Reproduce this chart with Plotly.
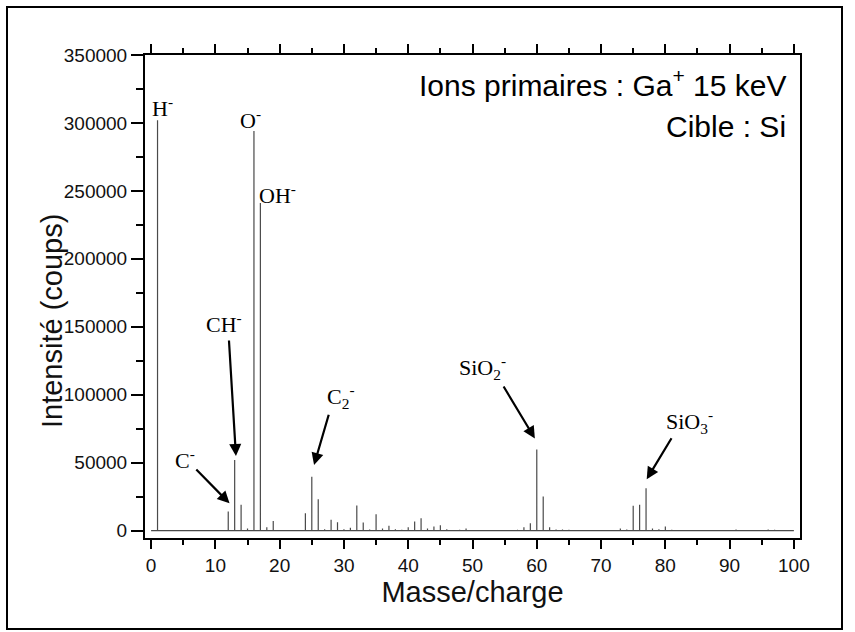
import plotly.graph_objects as go

# ---- data ----
masses = [1, 12, 13, 14, 15, 16, 17, 18, 19, 24, 25, 26, 27, 28, 29, 30, 31, 32, 33, 34,
          35, 36, 37, 38, 39, 40, 41, 42, 43, 44, 45, 46, 48, 49, 57, 58, 59, 60, 61, 62,
          63, 64, 65, 73, 74, 75, 76, 77, 78, 79, 80, 81, 91, 96, 97]
intensities = [302000, 14000, 52000, 19000, 1500, 294000, 241000, 2500, 7100, 12700, 39500,
               23000, 1000, 7900, 6100, 1000, 2000, 18400, 6000, 800, 12000, 1500, 3500, 1000,
               500, 2500, 6600, 9100, 1500, 3000, 3900, 1000, 500, 1500, 500, 2500, 5400,
               59600, 25000, 2500, 800, 800, 500, 1500, 800, 18200, 18900, 31100, 1500, 1000,
               3000, 500, 800, 800, 600]
x_start, x_end = 0, 100

# peak labels: (text, x, y)
label_text = ["H<sup>-</sup>", "O<sup>-</sup>", "OH<sup>-</sup>", "CH<sup>-</sup>", "C<sup>-</sup>",
              "C<sub>2</sub><sup>-</sup>", "SiO<sub>2</sub><sup>-</sup>", "SiO<sub>3</sub><sup>-</sup>"]
label_x = [1.8, 15.5, 19.6, 11.4, 5.3, 29.6, 51.6, 83.8]
label_y = [312000, 303000, 248000, 153000, 52600, 98600, 120300, 80600]

# arrows: tail (ax, ay) -> head (hx, hy)
arrow_tail_x = [12.1, 6.8, 27.7, 54.7, 81.1]
arrow_tail_y = [141000, 46000, 86300, 107100, 69000]
arrow_head_x = [13.2, 12.2, 25.35, 59.7, 77.1]
arrow_head_y = [54800, 20000, 48200, 67800, 37700]

x_ticks = list(range(0, 101, 10))

# ---- build stick spectrum path ----
xs, ys = [x_start], [0]
for m, v in sorted(zip(masses, intensities)):
    xs += [m, m, m]
    ys += [0, v, 0]
xs.append(x_end)
ys.append(0)

fig = go.Figure()
fig.add_trace(go.Scatter(x=xs, y=ys, mode="lines",
                         line=dict(color="#4a4a4a", width=1.2),
                         hoverinfo="skip", showlegend=False))

serif = "Liberation Serif, Times New Roman, serif"
sans = "Liberation Sans, Arial, sans-serif"

annotations = []
for t, x, y in zip(label_text, label_x, label_y):
    annotations.append(dict(x=x, y=y, xref="x", yref="y", text=t, showarrow=False,
                            font=dict(family=serif, size=22, color="black"),
                            xanchor="center", yanchor="middle"))
for tx, ty, hx, hy in zip(arrow_tail_x, arrow_tail_y, arrow_head_x, arrow_head_y):
    annotations.append(dict(x=hx, y=hy, ax=tx, ay=ty, xref="x", yref="y",
                            axref="x", ayref="y", text="", showarrow=True,
                            arrowhead=2, arrowsize=1.1, arrowwidth=2.2,
                            arrowcolor="black", standoff=0, startstandoff=0))
annotations.append(dict(x=0.982, y=0.943, xref="paper", yref="paper",
                        text="Ions primaires : Ga<sup>+</sup> 15 keV", showarrow=False,
                        xanchor="right", yanchor="middle",
                        font=dict(family=sans, size=30, color="black")))
annotations.append(dict(x=0.982, y=0.852, xref="paper", yref="paper",
                        text="Cible : Si", showarrow=False,
                        xanchor="right", yanchor="middle",
                        font=dict(family=sans, size=30, color="black")))
# y-axis title placed as a rotated annotation
annotations.append(dict(x=(52 - 145) / 655, y=(538 - 321) / 483, xref="paper", yref="paper",
                        text="Intensité (coups)", showarrow=False, textangle=-90,
                        xanchor="center", yanchor="middle",
                        font=dict(family=sans, size=29, color="#111")))

fig.update_layout(
    width=855, height=632,
    margin=dict(l=145, r=55, t=55, b=94, autoexpand=False),
    paper_bgcolor="white", plot_bgcolor="white",
    annotations=annotations,
    shapes=[dict(type="rect", xref="paper", yref="paper",
                 x0=-138 / 655, x1=(842 - 145) / 655,
                 y0=-(629 - 538) / 483, y1=(538 - 7) / 483,
                 line=dict(color="black", width=2), fillcolor="rgba(0,0,0,0)",
                 layer="below")],
    xaxis=dict(range=[-0.95, 100.95], tickvals=x_ticks, ticks="outside",
               ticklen=9, tickwidth=2, tickcolor="black",
               showline=True, linewidth=2, linecolor="black", mirror="ticks",
               showgrid=False, zeroline=False,
               minor=dict(dtick=5, tick0=0, ticks="outside", ticklen=5, tickwidth=2,
                          tickcolor="black", showgrid=False),
               tickfont=dict(family=sans, size=19, color="#111"),
               title=dict(text="Masse/charge", standoff=7,
                          font=dict(family=sans, size=29, color="#111"))),
    yaxis=dict(range=[-5500, 350000], dtick=50000, tick0=0, tickformat="d",
               ticks="outside", ticklen=12, tickwidth=2, tickcolor="black",
               showline=True, linewidth=2, linecolor="black", mirror=True,
               showgrid=False, zeroline=False,
               minor=dict(dtick=25000, tick0=0, ticks="outside", ticklen=7, tickwidth=2,
                          tickcolor="black", showgrid=False),
               tickfont=dict(family=sans, size=19, color="#111")),
)

fig.write_html("out.html")
